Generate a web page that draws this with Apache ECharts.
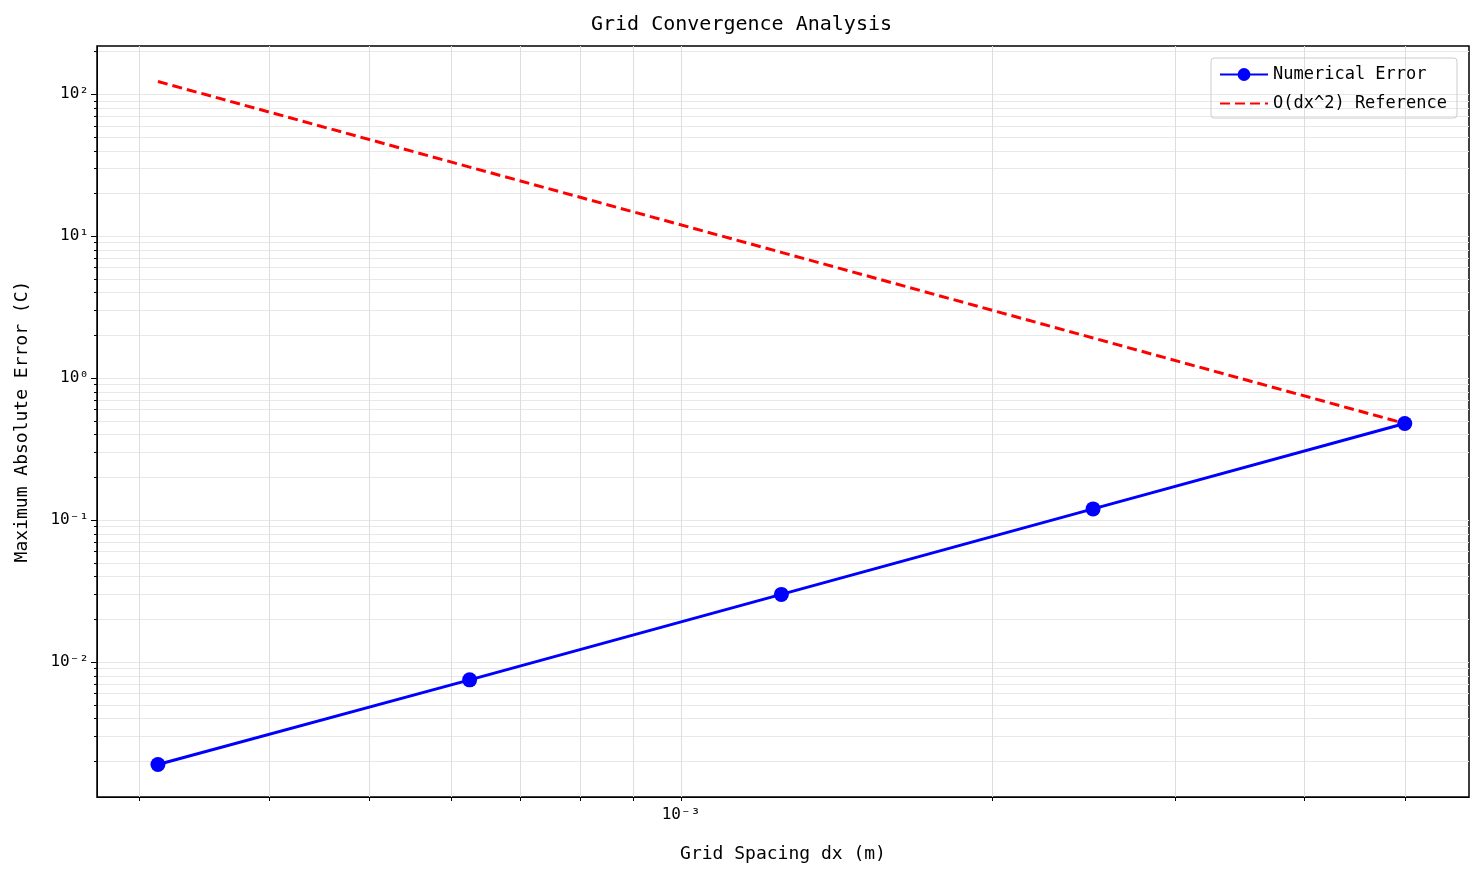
<!DOCTYPE html>
<html><head><meta charset="utf-8">
<script src="https://cdn.jsdelivr.net/npm/echarts@6/dist/echarts.min.js"></script>
<style>html,body{margin:0;background:#fff}#c{width:1483px;height:880px}</style>
</head><body><div id="c"></div>
<script>
var dx = [0.0003125, 0.000625, 0.00125, 0.0025, 0.005];
var numErr = [0.0019, 0.0075, 0.030, 0.12, 0.48];
var refErr = [123, 30.7, 7.7, 1.92, 0.48];
var font = "DejaVu Sans Mono";
var sup = {'-':'⁻','0':'⁰','1':'¹','2':'²','3':'³'};
function powLabel(v){ return '10' + String(Math.round(v)).split('').map(function(c){return sup[c];}).join(''); }
function lg(v){ return Math.log10(v); }
var xMinor = [], yMinor = [];
[3,4,5,6,7,8,9].forEach(function(m){ xMinor.push(lg(m*1e-4)); });
[1,2,3,4,5].forEach(function(m){ xMinor.push(lg(m*1e-3)); });
for (var e = -3; e <= 2; e++) for (var m = 1; m <= 9; m++) { var v = lg(m*Math.pow(10,e)); if (v > -2.95 && v < 2.34) yMinor.push(v); }
var yMajor = [-2,-1,0,1,2];
function pair(xs, ys){ return xs.map(function(x,i){ return [lg(x), lg(ys[i])]; }); }
var chart = echarts.init(document.getElementById('c'));
chart.setOption({
  animation:false,
  textStyle:{fontFamily:font},
  title:{text:'Grid Convergence Analysis', left:'center', top:10, textStyle:{fontFamily:font, fontSize:20, fontWeight:'normal', color:'#000'}},
  legend:{right:26, top:58, orient:'vertical', itemWidth:48, itemHeight:16, itemGap:12,
    borderColor:'#ccc', borderWidth:1, borderRadius:3, padding:[8,10,6,8],
    textStyle:{fontFamily:font, fontSize:17, color:'#000'},
    data:[{name:'Numerical Error'}, {name:'O(dx^2) Reference', itemStyle:{opacity:0}}]},
  grid:{left:97, right:14, top:46, bottom:83, show:true, borderColor:'#000', borderWidth:1.5},
  xAxis:{type:'value', min:-3.564, max:-2.239,
    name:'Grid Spacing dx (m)', nameLocation:'middle', nameGap:48, nameTextStyle:{fontFamily:font, fontSize:18, color:'#000'},
    axisLine:{onZero:false, lineStyle:{color:'#000'}},
    axisTick:{customValues:xMinor, length:4, lineStyle:{color:'#000'}},
    axisLabel:{customValues:[-3], formatter:powLabel, color:'#000', fontSize:16, margin:10},
    splitLine:{show:true, lineStyle:{color:'#ddd'}}},
  yAxis:[{type:'value', min:-2.95, max:2.34,
    name:'Maximum Absolute Error (C)', nameLocation:'middle', nameGap:66, nameTextStyle:{fontFamily:font, fontSize:18, color:'#000'},
    axisLine:{show:true, onZero:false, lineStyle:{color:'#000'}},
    axisTick:{show:true, customValues:yMajor, length:6, lineStyle:{color:'#000'}},
    axisLabel:{customValues:yMajor, formatter:powLabel, color:'#000', fontSize:16},
    splitLine:{show:true, lineStyle:{color:'#d4d4d4'}}},
   {type:'value', min:-2.95, max:2.34, position:'left',
    axisLine:{show:false}, axisLabel:{show:false},
    axisTick:{show:true, customValues:yMinor, length:3, lineStyle:{color:'#000'}},
    splitLine:{show:true, lineStyle:{color:'#e8e8e8'}}}],
  series:[
    {name:'Numerical Error', type:'line', data:pair(dx,numErr), symbol:'circle', symbolSize:15,
     lineStyle:{color:'#0000ff', width:3}, itemStyle:{color:'#0000ff'}, z:3},
    {name:'O(dx^2) Reference', type:'line', data:pair(dx,refErr), symbol:'none',
     lineStyle:{color:'#ff0000', width:3, type:[10,5]}, itemStyle:{color:'#ff0000'}}
  ]
});
</script></body></html>
